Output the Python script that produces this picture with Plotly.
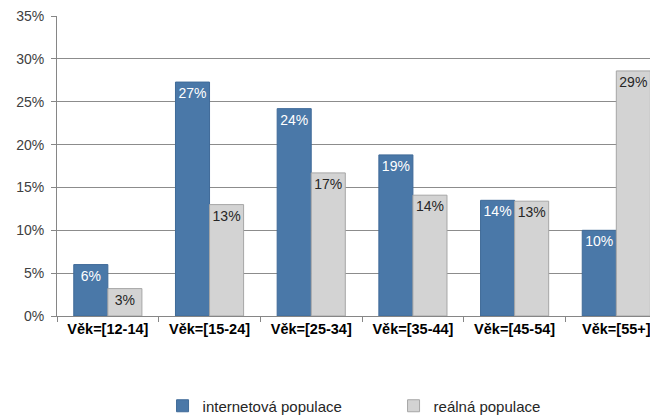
import plotly.graph_objects as go

categories = ["Věk=[12-14]", "Věk=[15-24]", "Věk=[25-34]", "Věk=[35-44]", "Věk=[45-54]", "Věk=[55+]"]
internet_pop = [0.060, 0.273, 0.242, 0.188, 0.135, 0.100]
real_pop = [0.032, 0.130, 0.167, 0.141, 0.134, 0.286]
y_ticks = [0, 0.05, 0.10, 0.15, 0.20, 0.25, 0.30, 0.35]
y_tick_labels = ["0%", "5%", "10%", "15%", "20%", "25%", "30%", "35%"]

FONT = "Liberation Sans, Arial, sans-serif"

fig = go.Figure()
fig.add_trace(go.Bar(
    name="internetová populace", x=categories, y=internet_pop,
    marker=dict(color="#4A78A8", line=dict(color="#3F6A98", width=1)),
    text=[f"{round(v*100):.0f}%" for v in internet_pop],
    textposition="inside", insidetextanchor="end", textangle=0,
    constraintext="none",
    textfont=dict(color="white", size=14, family=FONT),
))
fig.add_trace(go.Bar(
    name="reálná populace", x=categories, y=real_pop,
    marker=dict(color="#D3D3D3", line=dict(color="#A6A6A6", width=1)),
    text=[f"{round(v*100):.0f}%" for v in real_pop],
    textposition="inside", insidetextanchor="end", textangle=0,
    constraintext="none",
    textfont=dict(color="#262626", size=14, family=FONT),
))

# The page body has an 8px margin, so the figure is drawn 8px in from the top-left.
fig.update_layout(
    width=650, height=440,
    margin=dict(l=49, r=0, t=8, b=132),
    paper_bgcolor="white", plot_bgcolor="white",
    barmode="group", bargap=0.33, bargroupgap=0,
    font=dict(family=FONT, color="#262626"),
    showlegend=True,
    legend=dict(orientation="h", x=0.56, xanchor="center", y=-0.30, yanchor="middle",
                font=dict(size=15, color="#262626"), entrywidth=186,
                itemclick=False),
    xaxis=dict(
        type="category", range=[-0.5, 5.41], automargin=False,
        showline=True, linecolor="#868686", linewidth=1,
        ticks="outside", tickson="boundaries", ticklen=5, tickcolor="#868686",
        tickfont=dict(size=14.5, color="#000000", family=FONT, weight="bold"),
        showgrid=False,
    ),
    yaxis=dict(
        range=[0, 0.3501], tickvals=y_ticks, ticktext=y_tick_labels, automargin=False,
        showline=True, linecolor="#868686", linewidth=1,
        ticks="outside", ticklen=5, tickcolor="#868686", ticklabelstandoff=4,
        ticklabeloverflow="allow",
        showgrid=True, gridcolor="#8C8C8C", gridwidth=1,
        tickfont=dict(size=14, color="#404040", family=FONT),
        zeroline=False,
    ),
)

fig.write_html("out.html")
